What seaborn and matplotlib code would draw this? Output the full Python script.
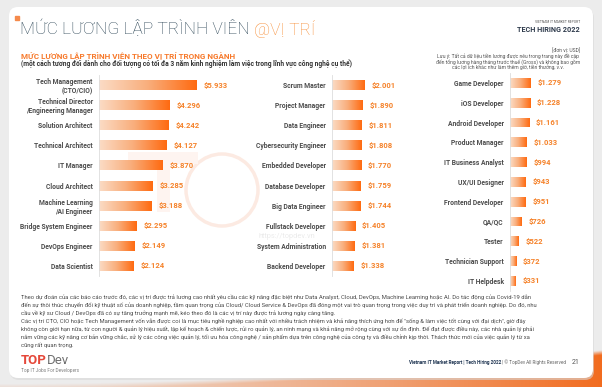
import numpy as np
import matplotlib.pyplot as plt
import seaborn as sns
from matplotlib.patches import FancyBboxPatch, Rectangle, Circle
from matplotlib.colors import LinearSegmentedColormap

# --- data (USD / month) ---
labels_left = ['Tech Management\n(CTO/CIO)', 'Technical Director\n/Engineering Manager',
               'Solution Architect', 'Technical Architect', 'IT Manager', 'Cloud Architect',
               'Machine Learning\n/AI Engineer', 'Bridge System Engineer', 'DevOps Engineer',
               'Data Scientist']
values_left = [5933, 4296, 4242, 4127, 3870, 3285, 3188, 2295, 2149, 2124]

labels_mid = ['Scrum Master', 'Project Manager', 'Data Engineer', 'Cybersecurity Engineer',
              'Embedded Developer', 'Database Developer', 'Big Data Engineer',
              'Fullstack Developer', 'System Administration', 'Backend Developer']
values_mid = [2001, 1890, 1811, 1808, 1770, 1759, 1744, 1405, 1381, 1338]

labels_right = ['Game Developer', 'iOS Developer', 'Android Developer', 'Product Manager',
                'IT Business Analyst', 'UX/UI Designer', 'Frontend Developer', 'QA/QC',
                'Tester', 'Technician Support', 'IT Helpdesk']
values_right = [1279, 1228, 1161, 1033, 994, 943, 951, 726, 522, 372, 331]

paragraph = [
    'Theo dự đoán của các báo cáo trước đó, các vị trí được trả lương cao nhất yêu cầu các kỹ năng đặc biệt như Data Analyst, Cloud, DevOps, Machine Learning hoặc AI. Do tác động của Covid-19 dẫn',
    'đến sự thôi thúc chuyển đổi kỹ thuật số của doanh nghiệp, tầm quan trọng của Cloud/ Cloud Service & DevOps đã đóng một vai trò quan trọng trong việc duy trì và phát triển doanh nghiệp. Do đó, nhu',
    'cầu về kỹ sư Cloud / DevOps đã có sự tăng trưởng mạnh mẽ, kéo theo đó là các vị trí này được trả lương ngày càng tăng.',
    'Các vị trí CTO, CIO hoặc Tech Management vốn vẫn được coi là mục tiêu nghề nghiệp cao nhất với nhiều trách nhiệm và khả năng thích ứng hơn để "sống & làm việc tốt cùng với đại dịch", giờ đây',
    'không còn giới hạn nữa, từ con người & quản lý hiệu suất, lập kế hoạch & chiến lược, rủi ro quản lý, an ninh mạng và khả năng mở rộng cùng với sự ổn định. Để đạt được điều này, các nhà quản lý phải',
    'nắm vững các kỹ năng cơ bản vững chắc, xử lý các công việc quản lý, tối ưu hóa công nghệ / sản phẩm dựa trên công nghệ của công ty và điều chỉnh kịp thời. Thách thức mới của việc quản lý từ xa',
    'cũng rất quan trọng.',
]
note_lines = ['Lưu ý: Tất cả dữ liệu tiền lương được nêu trong trang này đề cập',
              'đến tổng lương hàng tháng trước thuế (Gross) và không bao gồm',
              'các lợi ích khác như làm thêm giờ, tiền thưởng, v.v.']

W, H = 602, 387
ORANGE = '#F5822A'
bar_cmap = LinearSegmentedColormap.from_list('bar', ['#FBDCC6', '#F9AE7C', '#FF6A10'])

sns.set_theme(style='white')
plt.rcParams['font.family'] = ['Roboto', 'DejaVu Sans']

fig = plt.figure(figsize=(W / 100, H / 100), dpi=100)
fig.patch.set_facecolor('#ECECEC')

# background axes in pixel coordinates
bg = fig.add_axes([0, 0, 1, 1])
bg.set_xlim(0, W)
bg.set_ylim(H, 0)
bg.axis('off')

# orange glow behind bottom-right corner
xs = np.linspace(0, 1, 400)
ys = np.linspace(330, H, 80)
gx, gy = np.meshgrid(xs, ys)
edge = 384 - 34 * gx ** 2
alpha = np.clip((gy - edge) / 5, 0, 1) * (0.15 + 0.85 * gx ** 1.5)
img = np.zeros((len(ys), len(xs), 4))
img[..., 0], img[..., 1], img[..., 2] = 0.95, 0.42, 0.12
img[..., 3] = alpha
bg.imshow(img, extent=(0, W, H, 330), aspect='auto', zorder=0)
bg.set_xlim(0, W)
bg.set_ylim(H, 0)

# white card with soft shadow
bg.add_patch(FancyBboxPatch((10, 9), 584, 371, boxstyle='round,pad=0,rounding_size=9',
                            fc='#D8D8D8', ec='none', alpha=0.6, zorder=1))
bg.add_patch(FancyBboxPatch((9, 7), 584, 371, boxstyle='round,pad=0,rounding_size=9',
                            fc='white', ec='none', zorder=2))

# faint logo watermark (shapes only)
bg.add_patch(Circle((222, 190), 36, fc='none', ec='#FCEAE2', lw=2.5, zorder=3))
bg.add_patch(Rectangle((128, 152), 70, 12, fc='#FEF4F0', ec='none', zorder=3))
bg.add_patch(Rectangle((157, 152), 13, 60, fc='#FEF4F0', ec='none', zorder=3))
bg.text(287, 236, 'https://topdev.vn', fontsize=5.3, color='#EBEBEB', ha='center',
        va='center', zorder=3)

# header
bg.add_patch(Rectangle((15, 16), 4, 4, color='#F58A4B', zorder=4))
t1 = bg.text(20, 34.5, 'MỨC LƯƠNG LẬP TRÌNH VIÊN ', fontsize=12.5, fontweight='light',
             color='#2F4858', va='baseline', zorder=4)
bg.annotate('@VỊ TRÍ', xy=(1, 0), xycoords=t1, va='bottom', ha='left', fontsize=12.5,
            fontweight='light', color='#F7913D', zorder=4)
bg.text(580, 23, 'VIETNAM IT MARKET REPORT', fontsize=2.4, color='#555555', ha='right',
        va='baseline', zorder=4)
bg.text(580, 32, 'TECH HIRING 2022', fontsize=5.2, fontweight='bold', color='#2E3A4B',
        ha='right', va='baseline', zorder=4)

bg.text(21, 58.5, 'MỨC LƯƠNG LẬP TRÌNH VIÊN THEO VỊ TRÍ TRONG NGÀNH', fontsize=5.8,
        fontweight='bold', color='#F7792B', va='baseline', zorder=4)
bg.text(21, 66.5, '(một cách tương đối dành cho đối tượng có tối đa 3 năm kinh nghiệm làm việc '
        'trong lĩnh vực công nghệ cụ thể)', fontsize=4.8, fontweight='bold', color='#333333',
        va='baseline', zorder=4)

bg.text(580, 50, '[đơn vị: USD]', fontsize=3.6, color='#555555', ha='right', va='center',
        zorder=4)
for i, line in enumerate(note_lines):
    bg.text(508, 56 + 5.6 * i, line, fontsize=3.6, color='#555555', ha='center',
            va='center', zorder=4)

# paragraph
for i, line in enumerate(paragraph):
    bg.text(21, 299 + 8.0 * i, line, fontsize=4.26, color='#4A4A4A', va='baseline', zorder=4)

# logo and footer
t_logo = bg.text(21, 364, 'TOP', fontsize=9.5, fontweight='bold', color='#E5483A',
                 va='baseline', zorder=4)
bg.annotate('Dev', xy=(1, 0), xycoords=t_logo, va='bottom', ha='left', fontsize=9.5,
            color='#707070', zorder=4)
bg.text(21, 372, 'Top IT Jobs For Developers', fontsize=3.4, color='#808080',
        va='baseline', zorder=4)
t_f = bg.text(566, 364, ' | © TopDev All Rights Reserved', fontsize=3.3, color='#666666',
              ha='right', va='baseline', zorder=4)
bg.annotate('Vietnam IT Market Report | Tech Hiring 2022', xy=(0, 0), xycoords=t_f,
            va='bottom', ha='right', fontsize=3.3, fontweight='bold', color='#1F3552', zorder=4)
bg.text(580, 364.5, '21', fontsize=5, color='#555555', ha='right', va='baseline', zorder=4)

# bar panels
PX_PER_USD = 0.0164


def panel(x0, y_top, row_h, labels, values, xmax):
    n = len(labels)
    width_px = xmax * PX_PER_USD
    y_bot = y_top + n * row_h
    ax = fig.add_axes([x0 / W, 1 - y_bot / H, width_px / W, (y_bot - y_top) / H])
    ax.set_facecolor('none')
    sns.barplot(x=values, y=labels, orient='h', ax=ax, color=ORANGE, width=0.5,
                saturation=1)
    grad = np.linspace(0, 1, 256).reshape(1, -1)
    for bar, v in zip(ax.patches, values):
        bx, by = bar.get_x(), bar.get_y()
        bw, bh = bar.get_width(), bar.get_height()
        im = ax.imshow(grad, cmap=bar_cmap, extent=(bx, bx + bw, by + bh, by),
                       aspect='auto', zorder=2)
        im.set_clip_path(bar)
        bar.set_facecolor('none')
        bar.set_edgecolor('none')
        ax.annotate('$' + f'{v:,}'.replace(',', '.'), xy=(bx + bw, by + bh / 2),
                    xytext=(5, 0), textcoords='offset points', va='center', ha='left',
                    fontsize=5.5, fontweight='bold', color=ORANGE, annotation_clip=False)
    ax.set_xlim(0, xmax)
    ax.set_ylim(n - 0.5, -0.5)
    ax.set_xticks([])
    ax.set_xlabel('')
    ax.set_ylabel('')
    for s in ['top', 'right', 'bottom']:
        ax.spines[s].set_visible(False)
    ax.spines['left'].set_color('#DDDDDD')
    ax.spines['left'].set_linewidth(0.6)
    ax.tick_params(axis='y', length=0, pad=4.5)
    for lab in ax.get_yticklabels():
        lab.set_fontsize(4.9)
        lab.set_fontweight('bold')
        lab.set_color('#4D4D4D')
        lab.set_linespacing(1.15)
    return ax


panel(99, 75, 20.1, labels_left, values_left, 6500)
panel(332, 75, 20.1, labels_mid, values_mid, 3000)
panel(510, 73, 19.8, labels_right, values_right, 2000)

fig.savefig('out.png', dpi=100, facecolor=fig.get_facecolor())
